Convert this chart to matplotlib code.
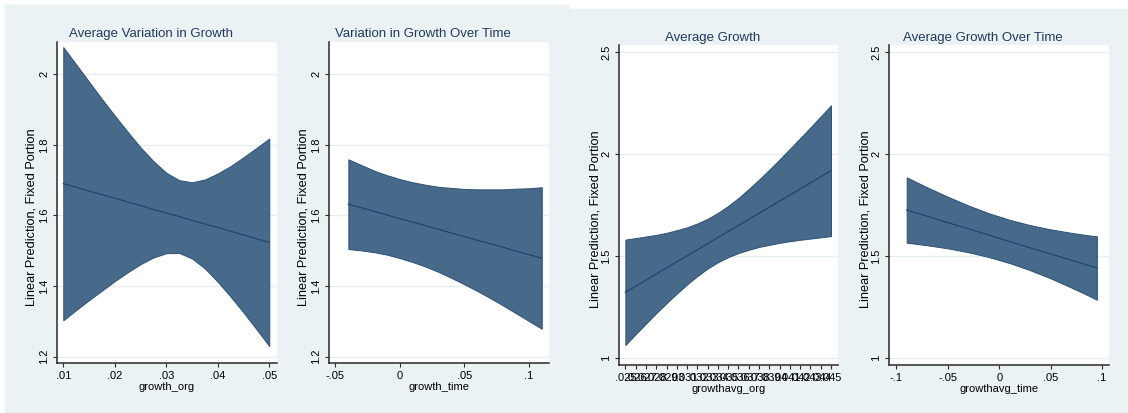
import matplotlib.pyplot as plt
from matplotlib.patches import Rectangle

plt.rcParams['font.family'] = ['Liberation Sans', 'DejaVu Sans']

# margins for growth_org
org_x = [.01, .0125, .015, .0175, .02, .0225, .025, .0275, .03, .0325,
         .035, .0375, .04, .0425, .045, .0475, .05]
org_fit = [1.690, 1.680, 1.669, 1.659, 1.649, 1.638, 1.628, 1.617, 1.607, 1.597,
           1.586, 1.576, 1.566, 1.555, 1.545, 1.534, 1.524]
org_hi = [2.077, 2.028, 1.979, 1.930, 1.883, 1.837, 1.793, 1.754, 1.721, 1.700,
          1.694, 1.702, 1.719, 1.740, 1.765, 1.791, 1.818]
org_lo = [1.303, 1.332, 1.360, 1.387, 1.414, 1.439, 1.462, 1.481, 1.493, 1.494,
          1.478, 1.450, 1.412, 1.370, 1.325, 1.278, 1.230]

# margins for growth_time
time_x = [-.04, -.03, -.02, -.01, 0, .01, .02, .03, .04, .05, .06, .07, .08, .09, .10, .11]
time_fit = [1.632, 1.622, 1.612, 1.601, 1.591, 1.581, 1.571, 1.561, 1.550, 1.540,
            1.530, 1.520, 1.510, 1.499, 1.489, 1.479]
time_hi = [1.759, 1.743, 1.727, 1.714, 1.703, 1.694, 1.687, 1.681, 1.678, 1.675,
           1.674, 1.674, 1.674, 1.676, 1.677, 1.680]
time_lo = [1.505, 1.501, 1.496, 1.489, 1.479, 1.468, 1.455, 1.440, 1.423, 1.405,
           1.386, 1.366, 1.345, 1.323, 1.301, 1.279]

# margins for growthavg_org
avg_x = [.025, .026, .027, .028, .029, .030, .031, .032, .033, .034, .035,
         .036, .037, .038, .039, .040, .041, .042, .043, .044, .045]
avg_fit = [1.324, 1.353, 1.383, 1.413, 1.443, 1.473, 1.502, 1.532, 1.562, 1.592, 1.622,
           1.651, 1.681, 1.711, 1.741, 1.771, 1.800, 1.830, 1.860, 1.890, 1.920]
avg_hi = [1.582, 1.589, 1.597, 1.605, 1.615, 1.628, 1.642, 1.661, 1.684, 1.713, 1.747,
          1.786, 1.830, 1.876, 1.925, 1.975, 2.027, 2.079, 2.132, 2.186, 2.240]
avg_lo = [1.065, 1.118, 1.170, 1.221, 1.270, 1.317, 1.362, 1.403, 1.440, 1.471, 1.496,
          1.516, 1.532, 1.546, 1.556, 1.566, 1.574, 1.581, 1.587, 1.593, 1.599]
avg_ticklabels = ['.025', '.026', '.027', '.028', '.029', '.03', '.031', '.032', '.033',
                  '.034', '.035', '.036', '.037', '.038', '.039', '.04', '.041', '.042',
                  '.043', '.044', '.045']

# margins for growthavg_time
avgt_x = [-.09, -.07, -.05, -.03, -.01, .01, .03, .05, .07, .085, .095]
avgt_fit = [1.727, 1.696, 1.665, 1.635, 1.604, 1.573, 1.542, 1.512, 1.481, 1.458, 1.443]
avgt_hi = [1.887, 1.838, 1.792, 1.749, 1.711, 1.679, 1.653, 1.632, 1.615, 1.604, 1.598]
avgt_lo = [1.567, 1.554, 1.539, 1.520, 1.496, 1.467, 1.432, 1.392, 1.347, 1.312, 1.287]

W, H = 1128, 413
BG = '#EAF2F3'
FILL = '#476A8B'
LINE = '#1A476F'
TITLE_C = '#23395B'


def px_rect(x0, y0, x1, y1):
    # pixel box (top-left origin) -> figure fraction rect
    return [x0 / W, (H - y1) / H, (x1 - x0) / W, (y1 - y0) / H]


def draw_panel(fig, box, x, fit, lo, hi, title, title_pos, ylab_pos, xlabel,
               xticks, xticklabels, yticks, yticklabels, xlim, ylim):
    ax = fig.add_axes(px_rect(*box))
    ax.set_facecolor('white')
    for y in yticks:
        ax.axhline(y, color='#E4ECEF', lw=0.9, zorder=0)
    ax.fill_between(x, lo, hi, color=FILL, edgecolor='#2C5075', lw=0.7, zorder=2)
    ax.plot(x, fit, color=LINE, lw=0.9, zorder=3)
    ax.set_xlim(*xlim)
    ax.set_ylim(*ylim)
    for s in ['top', 'right']:
        ax.spines[s].set_visible(False)
    for s in ['left', 'bottom']:
        ax.spines[s].set_color('#2a2a2a')
        ax.spines[s].set_linewidth(1.1)
    ax.set_xticks(xticks)
    ax.set_xticklabels(xticklabels)
    ax.set_yticks(yticks)
    ax.set_yticklabels(yticklabels, rotation=90, va='center')
    ax.tick_params(length=3, width=0.8, pad=2.5, labelsize=8, color='#2a2a2a')
    ax.set_xlabel(xlabel, fontsize=8, labelpad=1)
    fig.text(title_pos[0] / W, 1 - title_pos[1] / H, title, ha='center', va='baseline',
             fontsize=9.5, color=TITLE_C)
    fig.text(ylab_pos[0] / W, 1 - ylab_pos[1] / H, 'Linear Prediction, Fixed Portion',
             rotation=90, ha='center', va='center', fontsize=9.2)
    return ax


fig = plt.figure(figsize=(W / 100, H / 100), dpi=100)
fig.patch.set_facecolor('white')
fig.patches.append(Rectangle((5 / W, 0), (569 - 5) / W, (H - 5) / H,
                             transform=fig.transFigure, color=BG, zorder=-10))
fig.patches.append(Rectangle((569 / W, 0), (W - 569) / W, (H - 9) / H,
                             transform=fig.transFigure, color=BG, zorder=-10))

draw_panel(fig, (57, 42, 277, 363), org_x, org_fit, org_lo, org_hi,
           'Average Variation in Growth', (151, 37), (32, 217), 'growth_org',
           [.01, .02, .03, .04, .05], ['.01', '.02', '.03', '.04', '.05'],
           [1.2, 1.4, 1.6, 1.8, 2], ['1.2', '1.4', '1.6', '1.8', '2'],
           (.00878, .0515), (1.182, 2.0915))

draw_panel(fig, (329, 42, 549, 363), time_x, time_fit, time_lo, time_hi,
           'Variation in Growth Over Time', (423, 37), (304, 217), 'growth_time',
           [-.05, 0, .05, .1], ['-.05', '0', '.05', '.1'],
           [1.2, 1.4, 1.6, 1.8, 2], ['1.2', '1.4', '1.6', '1.8', '2'],
           (-.055, .1156), (1.182, 2.0915))

draw_panel(fig, (619, 45, 838, 365), avg_x, avg_fit, avg_lo, avg_hi,
           'Average Growth', (713, 41), (595, 219), 'growthavg_org',
           avg_x, avg_ticklabels,
           [1, 1.5, 2, 2.5], ['1', '1.5', '2', '2.5'],
           (.02438, .04568), (.967, 2.536))

draw_panel(fig, (889, 45, 1109, 365), avgt_x, avgt_fit, avgt_lo, avgt_hi,
           'Average Growth Over Time', (983, 41), (865, 219), 'growthavg_time',
           [-.1, -.05, 0, .05, .1], ['-.1', '-.05', '0', '.05', '.1'],
           [1, 1.5, 2, 2.5], ['1', '1.5', '2', '2.5'],
           (-.1072, .1068), (.967, 2.536))

fig.savefig('out.png', dpi=100, facecolor=fig.get_facecolor())
